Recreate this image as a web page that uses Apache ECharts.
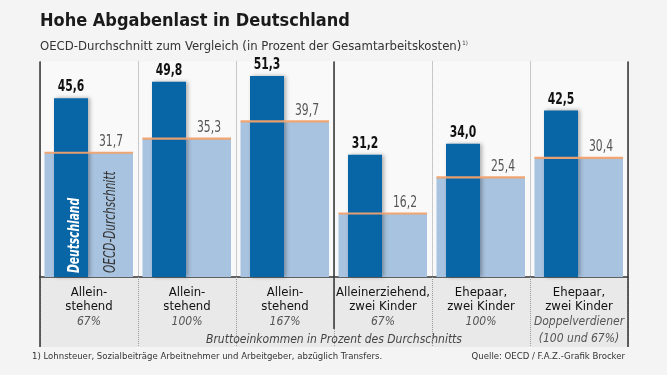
<!DOCTYPE html>
<html>
<head>
<meta charset="utf-8">
<script src="https://cdn.jsdelivr.net/npm/echarts@6/dist/echarts.min.js"></script>
<style>
  html, body { margin: 0; padding: 0; background: #f4f4f4; }
  #chart { width: 667px; height: 375px; }
</style>
</head>
<body>
<div id="chart"></div>
<script>
var groupTitles = ['Allein-\nstehend', 'Allein-\nstehend', 'Allein-\nstehend', 'Alleinerziehend,\nzwei Kinder', 'Ehepaar,\nzwei Kinder', 'Ehepaar,\nzwei Kinder'];
var incomeShares = ['67%', '100%', '167%', '67%', '100%', 'Doppelverdiener\n(100 und 67%)'];
var germany = [45.6, 49.8, 51.3, 31.2, 34.0, 42.5];
var oecd = [31.7, 35.3, 39.7, 16.2, 25.4, 30.4];

var font = "'Liberation Sans Narrow', 'DejaVu Sans Condensed', sans-serif";
var darkBlue = '#0865a6';
var lightBlue = '#a8c3df';
var orange = '#f2a26c';

function fmt(v) {
  return v.toFixed(1).replace('.', ',');
}

function renderOecd(params, api) {
  var i = params.dataIndex;
  var base = api.coord([i, 0]);
  var top = api.coord([i, api.value(1)]);
  var band = api.size([1, 0])[0];
  var x0 = base[0] - band / 2 + 4.5;
  var x1 = base[0] + band / 2 - 5;
  var children = [{
    type: 'rect',
    shape: { x: x0, y: top[1], width: x1 - x0, height: base[1] - top[1] },
    style: { fill: lightBlue },
    z2: 1
  }, {
    type: 'line',
    shape: { x1: x0, y1: top[1], x2: x1, y2: top[1] },
    style: { stroke: orange, lineWidth: 2.2, opacity: 0.95 },
    z2: 20
  }, {
    type: 'text',
    x: base[0] + 22,
    y: top[1] - 3,
    scaleX: 0.8,
    style: {
      text: fmt(api.value(1)),
      fill: '#555',
      font: '15px ' + font,
      align: 'center',
      verticalAlign: 'bottom'
    },
    z2: 21
  }];
  if (i === 0) {
    children.push({
      type: 'text',
      x: base[0] + 22,
      y: base[1] - 4,
      rotation: Math.PI / 2,
      scaleX: 0.78,
      style: {
        text: 'OECD-Durchschnitt',
        fill: '#333',
        font: 'italic 15px ' + font,
        align: 'left',
        verticalAlign: 'middle'
      },
      z2: 21
    });
  }
  return { type: 'group', children: children };
}

function renderGermany(params, api) {
  var i = params.dataIndex;
  var base = api.coord([i, 0]);
  var top = api.coord([i, api.value(1)]);
  var x0 = base[0] - 35;
  var children = [{
    type: 'rect',
    shape: { x: x0, y: top[1], width: 34, height: base[1] - top[1] },
    style: {
      fill: darkBlue,
      shadowBlur: 4,
      shadowOffsetX: 2,
      shadowColor: 'rgba(0,0,0,0.3)'
    },
    z2: 10
  }, {
    type: 'text',
    x: x0 + 17,
    y: top[1] - 3,
    scaleX: 0.75,
    style: {
      text: fmt(api.value(1)),
      fill: '#111',
      font: 'bold 16px ' + font,
      align: 'center',
      verticalAlign: 'bottom'
    },
    z2: 21
  }];
  if (i === 0) {
    children.push({
      type: 'text',
      x: x0 + 21,
      y: base[1] - 4,
      rotation: Math.PI / 2,
      scaleX: 0.74,
      style: {
        text: 'Deutschland',
        fill: '#fff',
        font: 'italic bold 16px ' + font,
        align: 'left',
        verticalAlign: 'middle'
      },
      z2: 21
    });
  }
  return { type: 'group', children: children };
}

var chart = echarts.init(document.getElementById('chart'), null, { renderer: 'canvas' });
chart.setOption({
  backgroundColor: '#f4f4f4',
  animation: false,
  title: [{
    text: 'Hohe Abgabenlast in Deutschland',
    left: 40,
    top: 12,
    padding: 0,
    textStyle: { fontFamily: font, fontWeight: 'bold', fontSize: 18, color: '#1a1a1a' }
  }, {
    text: '{a|OECD-Durchschnitt zum Vergleich (in Prozent der Gesamtarbeitskosten)}{s|1)}',
    left: 40,
    top: 40,
    padding: 0,
    textStyle: {
      fontWeight: 'normal',
      rich: {
        a: { fontFamily: font, fontSize: 13, fontWeight: 'normal', color: '#333' },
        s: { fontFamily: font, fontSize: 6, fontWeight: 'normal', color: '#333', verticalAlign: 'top', padding: [0, 0, 7, 1] }
      }
    }
  }, {
    text: '1) Lohnsteuer, Sozialbeiträge Arbeitnehmer und Arbeitgeber, abzüglich Transfers.',
    left: 32,
    top: 352,
    padding: 0,
    textStyle: { fontFamily: font, fontSize: 9.5, fontWeight: 'normal', color: '#333' }
  }, {
    text: 'Quelle: OECD / F.A.Z.-Grafik Brocker',
    right: 42,
    top: 352,
    padding: 0,
    textStyle: { fontFamily: font, fontSize: 9.5, fontWeight: 'normal', color: '#333' }
  }],
  grid: {
    left: 40,
    right: 39,
    top: 61.4,
    bottom: 98,
    show: true,
    backgroundColor: '#f9f9f9',
    borderWidth: 0
  },
  xAxis: {
    type: 'category',
    data: groupTitles,
    boundaryGap: true,
    axisLine: { lineStyle: { color: '#333', width: 1.5 } },
    axisTick: { show: true, length: 69, lineStyle: { color: '#999', type: 'dotted' } },
    splitLine: { show: true, lineStyle: { color: '#999', type: 'dotted' } },
    axisLabel: {
      margin: 9,
      interval: 0,
      formatter: function (value, index) {
        var lines = incomeShares[index].split('\n');
        var s = '{t|' + value.split('\n').join('}\n{t|') + '}\n{p|' + lines[0] + '}';
        if (lines[1]) {
          s += '\n{q|' + lines[1] + '}';
        }
        return s;
      },
      rich: {
        t: { fontFamily: font, fontSize: 13, color: '#111', lineHeight: 14 },
        p: { fontFamily: font, fontSize: 12, fontStyle: 'italic', color: '#555', lineHeight: 16 },
        q: { fontFamily: font, fontSize: 12, fontStyle: 'italic', color: '#555', lineHeight: 18 }
      }
    },
    name: 'Bruttoeinkommen in Prozent des Durchschnitts',
    nameLocation: 'middle',
    nameGap: 57,
    nameMoveOverlap: false,
    nameTextStyle: {
      fontFamily: font,
      fontSize: 12,
      fontStyle: 'italic',
      color: '#444',
      backgroundColor: '#e9e9e9',
      padding: [0, 4]
    }
  },
  yAxis: {
    type: 'value',
    min: 0,
    max: 55,
    show: false
  },
  series: [{
    name: 'OECD-Durchschnitt',
    type: 'custom',
    renderItem: renderOecd,
    data: oecd.map(function (v, i) { return [i, v]; })
  }, {
    name: 'Deutschland',
    type: 'custom',
    renderItem: renderGermany,
    data: germany.map(function (v, i) { return [i, v]; })
  }]
});

// frame lines and label background, placed from the axis scale
var c0 = chart.convertToPixel({ xAxisIndex: 0 }, 0);
var c1 = chart.convertToPixel({ xAxisIndex: 0 }, 1);
var band = c1 - c0;
var leftX = c0 - band / 2;
var rightX = leftX + band * groupTitles.length;
var midX = leftX + band * 3;
var baseY = chart.convertToPixel({ yAxisIndex: 0 }, 0);
var topY = chart.convertToPixel({ yAxisIndex: 0 }, 55);
chart.setOption({
  graphic: [{
    type: 'rect',
    shape: { x: leftX, y: baseY, width: rightX - leftX, height: 347 - baseY },
    style: { fill: '#e9e9e9' },
    z: -1
  }, {
    type: 'line',
    shape: { x1: leftX, y1: topY, x2: leftX, y2: 347 },
    style: { stroke: '#333', lineWidth: 1.5 },
    z: 10
  }, {
    type: 'line',
    shape: { x1: rightX, y1: topY, x2: rightX, y2: 347 },
    style: { stroke: '#333', lineWidth: 1.5 },
    z: 10
  }, {
    type: 'line',
    shape: { x1: midX, y1: topY, x2: midX, y2: 329 },
    style: { stroke: '#333', lineWidth: 1.5 },
    z: 10
  }]
});
</script>
</body>
</html>
